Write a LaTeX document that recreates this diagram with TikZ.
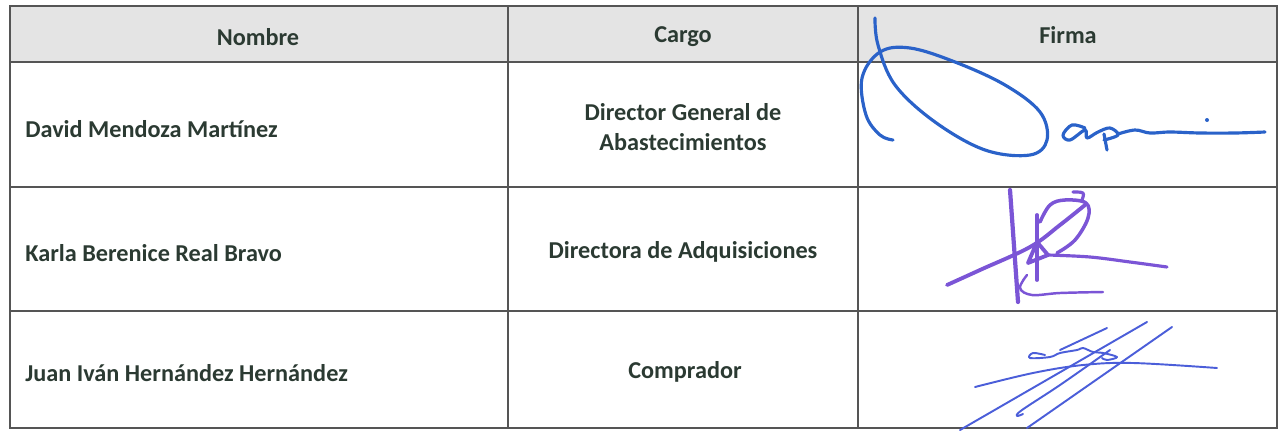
\documentclass[tikz,border=0pt]{standalone}
\usepackage{fontspec}
\setmainfont{Carlito}
\definecolor{txt}{HTML}{2B3A32}
\definecolor{rule}{HTML}{555555}
\definecolor{head}{HTML}{E4E4E4}
\definecolor{inkA}{HTML}{2A62C9}
\definecolor{inkB}{HTML}{7B55D6}
\definecolor{inkC}{HTML}{4B5ED9}
\begin{document}
\begin{tikzpicture}[x=0.02cm, y=-0.02cm]
  \useasboundingbox (0,0) rectangle (1281,430);

  \tikzstyle{cell}=[font=\fontsize{13.8}{16}\selectfont\bfseries, text=txt, inner sep=0pt]
  \tikzstyle{grid}=[draw=rule, line width=0.9pt]
  \tikzstyle{pen}=[line width=1.8pt, line cap=round, line join=round]

  % Kopfzeile
  \fill[head] (10,6) rectangle (1277,62);

  % Tabelle
  \draw[grid] (10,6) rectangle (1277,428);
  \draw[grid] (10,62) -- (1277,62);
  \draw[grid] (10,187) -- (1277,187);
  \draw[grid] (10,311) -- (1277,311);
  \draw[grid] (508,6) -- (508,428);
  \draw[grid] (858,6) -- (858,428);

  % Texte
  \node[cell] (nombre) at (258,37) {Nombre};
  \node[cell] (cargo) at (683,37) {Cargo};
  \node[cell] (firma) at (1068,35) {Firma};

  \node[cell, anchor=west] (n1) at (25,129) {David Mendoza Martínez};
  \node[cell, align=center] (c1) at (683,127) {Director General de\\[1pt]Abastecimientos};
  \node[cell, anchor=west] (n2) at (25,253) {Karla Berenice Real Bravo};
  \node[cell] (c2) at (683,252) {Directora de Adquisiciones};
  \node[cell, anchor=west] (n3) at (25,373) {Juan Iván Hernández Hernández};
  \node[cell] (c3) at (685,372) {Comprador};

  % Firma 1
  \draw[pen, inkA] plot[smooth, tension=0.6] coordinates {(875,18) (878,45) (895,85) (935,122) (985,150) (1030,155) (1047,140) (1040,112) (1005,85) (955,62) (910,48) (880,52) (862,78) (866,115) (880,135) (893,140)};
  \draw[pen, inkA] plot[smooth, tension=0.6] coordinates {(1085,128) (1072,125) (1063,135) (1070,140) (1085,130) (1087,138) (1098,132) (1110,128) (1118,135) (1104,140)};
  \draw[pen, inkA] (1104,134) -- (1107,150);
  \draw[pen, inkA] plot[smooth, tension=0.6] coordinates {(1118,134) (1135,130) (1150,133) (1170,132) (1200,133) (1235,133) (1265,132)};
  \fill[inkA] (1207,120) circle (2);

  % Firma 2
  \draw[pen, inkB, line width=2.4pt] (1010,190) -- (1018,302);
  \draw[pen, inkB, line width=2.2pt] plot[smooth, tension=0.6] coordinates {(947,285) (980,270) (1030,247) (1060,225) (1085,205)};
  \draw[pen, inkB, line width=2.2pt] (1037,215) -- (1037,280);
  \draw[pen, inkB, line width=2.2pt] (1037,242) -- (1028,263) -- (1048,255) -- cycle;
  \draw[pen, inkB, line width=2pt] plot[smooth, tension=0.6] coordinates {(1040,222) (1050,205) (1065,200) (1086,203) (1088,218) (1075,240) (1057,253)};
  \draw[pen, inkB] plot[smooth, tension=0.6] coordinates {(1073,192) (1083,193) (1082,200)};
  \draw[pen, inkB] plot[smooth, tension=0.6] coordinates {(1048,255) (1090,257) (1130,262) (1167,267)};
  \draw[pen, inkB, line width=1.4pt] plot[smooth, tension=0.6] coordinates {(1027,275) (1020,288) (1032,295) (1060,293) (1103,292)};

  % Firma 3
  \draw[pen, inkC, line width=1.1pt] plot[smooth, tension=0.6] coordinates {(975,387) (1033,373) (1083,365) (1133,363) (1217,368)};
  \draw[pen, inkC, line width=1.1pt] (960,430) -- (1147,322);
  \draw[pen, inkC, line width=1.1pt] plot[smooth, tension=0.6] coordinates {(1110,350) (1060,385) (1022,410) (1017,416) (1023,414)};
  \draw[pen, inkC, line width=1.1pt] (1027,428) -- (1172,327);
  \draw[pen, inkC, line width=1.1pt] (1060,350) -- (1107,328);
  \draw[pen, inkC, line width=1.1pt] plot[smooth, tension=0.6] coordinates {(1045,355) (1033,353) (1030,358) (1050,357) (1060,353) (1077,350) (1083,348) (1093,352) (1103,353) (1117,357) (1107,360) (1102,358)};
\end{tikzpicture}
\end{document}
